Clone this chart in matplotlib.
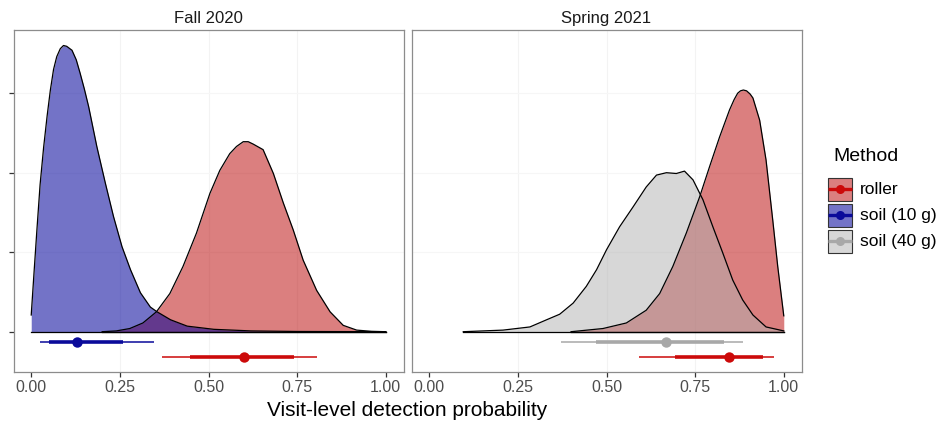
import matplotlib.pyplot as plt
from matplotlib.patches import Rectangle

plt.rcParams["font.family"] = ["Liberation Sans", "DejaVu Sans"]

W, H = 939, 423

# densities (x = probability, h = slab height, 1 unit = 1 y tick)
fall_soil10_x = [0.0, 0.008, 0.016, 0.025, 0.035, 0.045, 0.054, 0.063, 0.072, 0.082, 0.091, 0.10,
                 0.115, 0.127, 0.138, 0.150, 0.162, 0.185, 0.209, 0.232, 0.256, 0.280, 0.308, 0.336,
                 0.355, 0.393, 0.44, 0.515, 0.62, 0.75, 1.0]
fall_soil10_h = [0.21, 0.75, 1.28, 1.85, 2.32, 2.72, 3.04, 3.30, 3.46, 3.56, 3.60, 3.59,
                 3.54, 3.42, 3.25, 3.05, 2.83, 2.33, 1.87, 1.45, 1.07, 0.78, 0.49, 0.31,
                 0.25, 0.15, 0.07, 0.03, 0.01, 0.003, 0.0]

fall_roller_x = [0.20, 0.24, 0.278, 0.315, 0.353, 0.391, 0.428, 0.466, 0.504, 0.532, 0.560, 0.579,
                 0.598, 0.612, 0.626, 0.654, 0.683, 0.711, 0.739, 0.767, 0.805, 0.843, 0.880, 0.918,
                 0.96, 1.0]
fall_roller_h = [0.0, 0.01, 0.04, 0.11, 0.25, 0.48, 0.82, 1.24, 1.74, 2.03, 2.24, 2.33,
                 2.39, 2.39, 2.36, 2.29, 1.99, 1.62, 1.28, 0.90, 0.52, 0.25, 0.08, 0.02,
                 0.005, 0.0]

spring_soil40_x = [0.096, 0.208, 0.284, 0.331, 0.368, 0.406, 0.443, 0.472, 0.5, 0.537, 0.575, 0.612,
                   0.641, 0.669, 0.697, 0.72, 0.744, 0.772, 0.80, 0.828, 0.856, 0.884, 0.913, 0.95, 1.0]
spring_soil40_h = [0.0, 0.02, 0.06, 0.15, 0.22, 0.36, 0.57, 0.78, 1.03, 1.32, 1.57, 1.82,
                   1.97, 2.0, 1.99, 2.02, 1.91, 1.66, 1.32, 0.99, 0.65, 0.40, 0.21, 0.06, 0.01]

spring_roller_x = [0.40, 0.49, 0.556, 0.612, 0.65, 0.687, 0.725, 0.763, 0.791, 0.819, 0.847, 0.86,
                   0.87, 0.878, 0.886, 0.895, 0.905, 0.913, 0.932, 0.95, 0.969, 0.983, 1.0]
spring_roller_h = [0.0, 0.04, 0.11, 0.27, 0.48, 0.82, 1.24, 1.70, 2.08, 2.45, 2.79, 2.92,
                   3.0, 3.03, 3.04, 3.03, 2.99, 2.94, 2.66, 2.16, 1.40, 0.82, 0.2]

# point intervals: median, 66% interval, 95% interval
fall_soil10_iv = (0.13, 0.05, 0.259, 0.024, 0.346)
fall_roller_iv = (0.60, 0.449, 0.741, 0.369, 0.805)
spring_soil40_iv = (0.667, 0.47, 0.83, 0.372, 0.885)
spring_roller_iv = (0.845, 0.693, 0.94, 0.592, 0.972)

methods = ["roller", "soil (10 g)", "soil (40 g)"]
fill_col = {"roller": "#b80000", "soil (10 g)": "#00009a", "soil (40 g)": "#b0b0b0"}
fill_alpha = {"roller": 0.5, "soil (10 g)": 0.55, "soil (40 g)": 0.5}
line_col = {"roller": "#cc0a0a", "soil (10 g)": "#0a0a9a", "soil (40 g)": "#a8a8a8"}
iv_y = {"roller": -0.32, "soil (10 g)": -0.125, "soil (40 g)": -0.125}

panels = [
    ("Fall 2020", [("roller", fall_roller_x, fall_roller_h, fall_roller_iv),
                   ("soil (10 g)", fall_soil10_x, fall_soil10_h, fall_soil10_iv)]),
    ("Spring 2021", [("roller", spring_roller_x, spring_roller_h, spring_roller_iv),
                     ("soil (40 g)", spring_soil40_x, spring_soil40_h, spring_soil40_iv)]),
]


def fx(px):
    return px / W


def fy(py):
    return 1 - py / H


fig = plt.figure(figsize=(W / 100, H / 100), dpi=100)
boxes = [(13.5, 403.5), (411.5, 801.5)]
top, bottom = 30, 371.7

for i, ((title, series), (x0, x1)) in enumerate(zip(panels, boxes)):
    ax = fig.add_axes([fx(x0), fy(bottom), fx(x1 - x0), (bottom - top) / H])
    ax.set_xlim(-0.05, 1.05)
    ax.set_ylim(-0.503, 3.795)
    for v in [0.25, 0.5, 0.75]:
        ax.axvline(v, color="#f3f3f3", lw=0.8, zorder=0)
    for v in [1, 2, 3]:
        ax.axhline(v, color="#f6f6f6", lw=0.8, zorder=0)

    for m, xs, hs, iv in series:
        ax.fill_between(xs, 0, hs, color=fill_col[m], alpha=fill_alpha[m], lw=0, zorder=2)
    for m, xs, hs, iv in series:
        ax.plot(xs, hs, color="black", lw=0.9, zorder=3, solid_joinstyle="round")
        ax.plot([xs[0], xs[-1]], [0, 0], color="black", lw=0.9, zorder=3)
        med, lo66, hi66, lo95, hi95 = iv
        y = iv_y[m]
        ax.plot([lo95, hi95], [y, y], color=line_col[m], lw=1.1, solid_capstyle="butt", zorder=4)
        ax.plot([lo66, hi66], [y, y], color=line_col[m], lw=2.6, solid_capstyle="butt", zorder=4)
        ax.plot([med], [y], "o", color=line_col[m], ms=7.5, mew=0, zorder=5)

    for s in ax.spines.values():
        s.set_color("#8c8c8c")
        s.set_linewidth(0.9)
    ax.set_xticks([0, 0.25, 0.5, 0.75, 1.0])
    ax.set_xticklabels(["0.00", "0.25", "0.50", "0.75", "1.00"], fontsize=11.5, color="#4d4d4d")
    ax.tick_params(axis="x", length=3.5, width=0.9, color="#333333", pad=2.5)
    if i == 0:
        ax.set_yticks([0, 1, 2, 3])
        ax.set_yticklabels([])
        ax.tick_params(axis="y", length=3.5, width=0.9, color="#333333")
    else:
        ax.set_yticks([])
    fig.text(fx((x0 + x1) / 2), fy(23.3), title, ha="center", va="baseline",
             fontsize=12, color="#1a1a1a")

fig.text(fx(407), fy(416), "Visit-level detection probability", ha="center", va="baseline",
         fontsize=15, color="black")

# legend
lax = fig.add_axes([fx(805), fy(265), fx(W - 805), 130 / H])
lax.set_xlim(805, W)
lax.set_ylim(265, 135)
lax.axis("off")
lax.text(833, 157, "Method", fontsize=14, va="center", ha="left", color="black")
for k, m in enumerate(methods):
    yt = 178 + k * 26
    lax.add_patch(Rectangle((827.5, yt), 24.5, 23, facecolor=fill_col[m], alpha=fill_alpha[m],
                            edgecolor="none"))
    lax.add_patch(Rectangle((827.5, yt), 24.5, 23, facecolor="none", edgecolor="#333333", lw=0.8))
    yc = yt + 11.5
    lax.plot([827.5, 852], [yc, yc], color=line_col[m], lw=2.4, solid_capstyle="butt")
    lax.plot([839.75], [yc], "o", color=line_col[m], ms=6.5, mew=0)
    lax.text(860, yc, m, fontsize=12.5, va="center", ha="left", color="black")

fig.savefig("out.png", dpi=100)
